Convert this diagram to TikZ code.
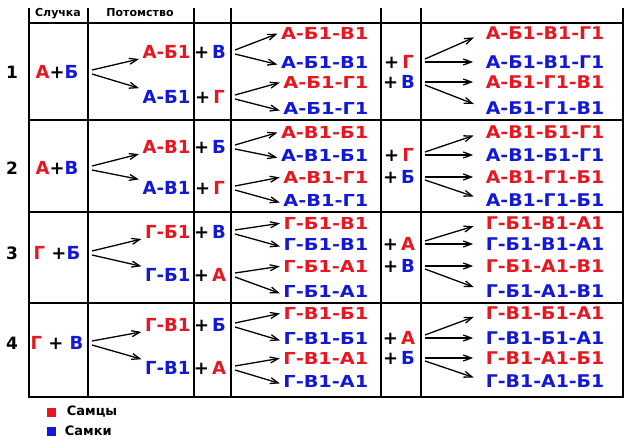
\documentclass[tikz,border=0pt]{standalone}
\usepackage{fontspec}
\setmainfont{DejaVu Sans}
\newfontfamily\widefont{DejaVu Sans}[FakeStretch=1.17]
\newfontfamily\midfont{DejaVu Sans}[FakeStretch=1.08]
\usepackage{tikz}
\usetikzlibrary{positioning, arrows.meta}
\usepackage{xcolor}
\definecolor{male}{RGB}{232,22,32}
\definecolor{female}{RGB}{18,24,214}

\begin{document}
\begin{tikzpicture}[x=1pt, y=-1pt,
    grid/.style={line width=1.8pt, line cap=rect},
    head/.style={font=\fontsize{11}{12}\selectfont\bfseries, anchor=base, inner sep=0pt},
    lbl/.style={font=\fontsize{18}{20}\selectfont\bfseries, inner sep=1.5pt},
    gen/.style={font=\widefont\fontsize{16.5}{18}\selectfont\bfseries, inner sep=1.5pt, anchor=east},
    genx/.style={font=\midfont\fontsize{17.5}{19}\selectfont\bfseries, inner sep=1.5pt, anchor=east},
    leg/.style={font=\fontsize{13}{14}\selectfont\bfseries, inner sep=0pt, anchor=west},
    arr/.style={line width=1.3pt, -{Straight Barb[length=8pt,width=6pt]}}]
  \useasboundingbox (0,0) rectangle (640,444);

  % table
  \foreach \x in {29,88,194,231,381,421,623}
    \draw[grid] (\x,9) -- (\x,397);
  \foreach \y in {23,120,212,303,397}
    \draw[grid] (29,\y) -- (623,\y);
  \node[head] (hcross) at (58,17) {Случка};
  \node[head] (hkids) at (140,17) {Потомство};

  % one row per cross
  \foreach \num/\yc/\ya/\yb/\yp/\yq/\yr/\ys/\cross/\kid/\fem/\mal in {
      1/72/52/97/33/62/82/108/{\textcolor{male}{А}+\textcolor{female}{Б}}/А-Б1/В/Г,
      2/168/147/188/132/155/177/200/{\textcolor{male}{А}+\textcolor{female}{В}}/А-В1/Б/Г,
      3/253/232/275/223/244/266/291/{\textcolor{male}{Г} +\textcolor{female}{Б}}/Г-Б1/В/А,
      4/343/325/368/313/338/358/381/{\textcolor{male}{Г} + \textcolor{female}{В}}/Г-В1/Б/А} {
    \node[lbl, font=\fontsize{17}{18}\selectfont\bfseries] (n\num) at (12,\yc) {\num};
    \node[lbl] (p\num) at (57,\yc) {\cross};
    \coordinate (f\num) at (92,\yc);
    % children
    \node[lbl, male, anchor=east] (a\num) at (192,\ya) {\kid};
    \node[lbl, female, anchor=east] (b\num) at (192,\yb) {\kid};
    \node[lbl] (ga\num) at (210,\ya) {+\,\textcolor{female}{\fem}};
    \node[lbl] (gb\num) at (210,\yb) {+\,\textcolor{male}{\mal}};
    \coordinate (fa\num) at (235,\ya);
    \coordinate (fb\num) at (235,\yb);
    % grandchildren
    \node[gen, male] (aa\num) at (370,\yp) {\kid-\fem1};
    \node[gen, female] (ab\num) at (370,\yq) {\kid-\fem1};
    \node[gen, male] (ba\num) at (370,\yr) {\kid-\mal1};
    \node[gen, female] (bb\num) at (370,\ys) {\kid-\mal1};
    \node[lbl] (ha\num) at (399,\yq) {+\,\textcolor{male}{\mal}};
    \node[lbl] (hb\num) at (399,\yr) {+\,\textcolor{female}{\fem}};
    \coordinate (fc\num) at (425,\yq);
    \coordinate (fd\num) at (425,\yr);
    % next generation
    \node[genx, male] (ca\num) at (606,\yp) {\kid-\fem1-\mal1};
    \node[genx, female] (cb\num) at (606,\yq) {\kid-\fem1-\mal1};
    \node[genx, male] (cc\num) at (606,\yr) {\kid-\mal1-\fem1};
    \node[genx, female] (cd\num) at (606,\ys) {\kid-\mal1-\fem1};
    % arrows
    \draw[arr, shorten >=2pt] ([yshift=2pt]f\num) -- (a\num.base west);
    \draw[arr, shorten >=2pt] ([yshift=-2pt]f\num) -- (b\num.north west);
    \draw[arr, shorten >=2pt] ([yshift=2pt]fa\num) -- (aa\num.west);
    \draw[arr, shorten >=2pt] ([yshift=-2pt]fa\num) -- ([yshift=-3pt]ab\num.west);
    \draw[arr, shorten >=2pt] ([yshift=2pt]fb\num) -- (ba\num.west);
    \draw[arr, shorten >=2pt] ([yshift=-2pt]fb\num) -- ([yshift=-3pt]bb\num.west);
    \draw[arr, shorten >=11pt] ([yshift=3pt]fc\num) -- (ca\num.west);
    \draw[arr, shorten >=11pt] (fc\num) -- (cb\num.west);
    \draw[arr, shorten >=11pt] (fd\num) -- (cc\num.west);
    \draw[arr, shorten >=11pt] ([yshift=-3pt]fd\num) -- (cd\num.west);
  }

  % legend
  \node[fill=male, minimum size=9pt, inner sep=0pt] (sqm) at (51,412) {};
  \node[leg, right=11pt of sqm] (lm) {Самцы};
  \node[fill=female, minimum size=9pt, inner sep=0pt] (sqf) at (51,431) {};
  \node[leg, right=9pt of sqf] (lf) {Самки};
\end{tikzpicture}
\end{document}
